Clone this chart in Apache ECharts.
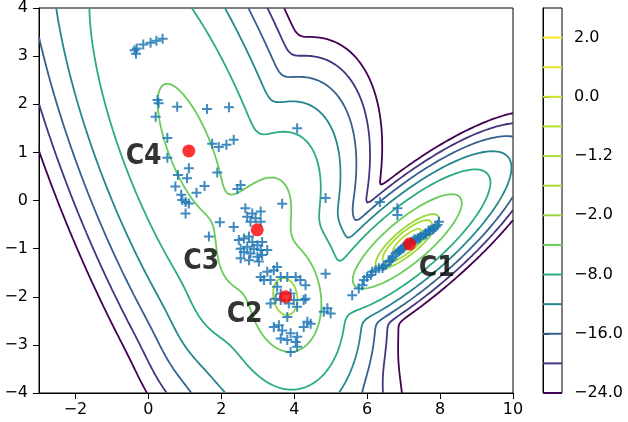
<!DOCTYPE html>
<html><head><meta charset="utf-8">
<script src="https://cdn.jsdelivr.net/npm/echarts@6/dist/echarts.min.js"></script>
<style>html,body{margin:0;padding:0;background:#fff}#c{width:628px;height:422px}</style>
</head><body><div id="c"></div>
<script>
// ---------- data ----------
const xTicks = [-2, 0, 2, 4, 6, 8, 10];
const yTicks = [-4, -3, -2, -1, 0, 1, 2, 3, 4];
const levels = [-24, -20, -16, -12, -8, -4, -2, -1.6, -1.2, -0.8, 0, 1, 2];
const cbarLabelIdx = [0, 2, 4, 6, 8, 10, 12];
const cbarLabels = ['−24.0', '−16.0', '−8.0', '−2.0', '−1.2', '0.0', '2.0'];

// mixture components: C1, C2, C3, C4
const compMeans   = [[7.1, -0.85], [3.76, -2.0], [2.985, -0.61], [1.15, 1.05]];
const compSigmas  = [[0.7, 0.2], [0.55, 0.45], [0.684, 0.42], [1.6, 0.58]];
const compAngles  = [31, -70, 55, -61];
const compWeights = [0.33, 0.27, 0.16, 0.17];

const centroids = [[7.165, -0.905], [3.76, -2.0], [2.985, -0.61], [1.108, 1.03]];
const centroidNames = ['C1', 'C2', 'C3', 'C4'];
const labelPos = [[7.91, -1.41], [2.64, -2.38], [1.45, -1.27], [-0.13, 0.91]];

const ptsTop = [[-0.38,3.12],[-0.34,3.05],[-0.32,3.16],[-0.14,3.24],[0.06,3.28],[0.22,3.32],[0.39,3.36]];
const ptsC4 = [[0.25,2.09],[0.28,2.02],[0.2,1.74],[0.79,1.95],[1.61,1.9],[2.21,1.94],[0.52,1.3],[0.52,0.89],
  [1.75,1.18],[1.93,1.11],[2.14,1.16],[2.34,1.26],[1.11,0.67],[1.06,0.46],[0.81,0.53],[1.89,0.58],[0.74,0.29],
  [0.9,0.12],[0.93,0.01],[1.32,0.16],[1.54,0.3],[2.53,0.32],[2.44,0.24],[1.02,-0.27],[1.02,-0.03],[1.11,-0.06],
  [4.08,1.5],[1.96,-0.45],[2.34,-0.55],[3.67,-0.07],[4.86,0.05]];
const ptsC3 = [[1.66,-0.75],[2.66,-0.16],[2.85,-0.27],[3.08,-0.23],[2.71,-0.34],[2.94,-0.37],[2.8,-0.44],[3.08,-0.44],
  [2.48,-0.82],[2.62,-0.79],[2.76,-0.75],[2.85,-0.86],[2.99,-0.93],[3.12,-0.86],[2.53,-1.0],[2.71,-0.96],[2.89,-1.0],
  [3.08,-1.03],[3.26,-1.03],[2.62,-1.07],[2.8,-1.1],[2.99,-1.17],[2.53,-1.2],[2.76,-1.24],[3.03,-1.27],[3.12,-1.13]];
const ptsC2 = [[3.08,-1.59],[3.26,-1.48],[3.44,-1.45],[3.53,-1.38],[3.17,-1.65],[3.35,-1.65],[3.63,-1.59],[3.81,-1.59],
  [4.04,-1.59],[4.17,-1.65],[4.31,-1.76],[3.53,-1.79],[3.63,-1.93],[3.49,-2.04],[3.9,-1.93],[3.99,-2.07],[4.31,-2.04],
  [3.35,-2.14],[3.63,-2.07],[3.85,-2.14],[4.08,-2.21],[3.81,-2.42],[3.44,-2.63],[3.58,-2.59],[3.67,-2.7],[3.9,-2.76],
  [4.08,-2.83],[3.81,-2.9],[4.04,-2.94],[4.26,-2.63],[4.36,-2.52],[4.45,-2.56],[4.81,-2.31],[5.0,-2.35],[4.91,-2.24],
  [3.9,-3.15],[4.08,-3.04],[3.63,-2.87],[4.26,-2.07],[4.86,-1.52]];
const ptsC1 = [[5.59,-1.97],[5.77,-1.83],[5.87,-1.76],[5.91,-1.65],[6.0,-1.59],[6.1,-1.55],[6.14,-1.48],[6.23,-1.45],
  [6.32,-1.41],[6.42,-1.4],[6.45,-1.36],[6.51,-1.34],[6.6,-1.27],[6.65,-1.24],[6.69,-1.2],[6.78,-1.1],[6.85,-1.07],
  [6.92,-1.03],[7.01,-0.96],[7.05,-0.93],[7.1,-0.89],[7.19,-0.86],[7.25,-0.84],[7.33,-0.82],[7.4,-0.78],[7.47,-0.75],
  [7.55,-0.72],[7.6,-0.68],[7.7,-0.64],[7.74,-0.61],[7.83,-0.58],[7.93,-0.51],[7.97,-0.44],[6.35,-0.03],[6.83,-0.16],[6.83,-0.3],
  [6.7,-1.16],[6.88,-1.05],[6.95,-1.0],[7.0,-0.99],[7.15,-0.92],[7.2,-0.88],[7.3,-0.8],[7.38,-0.8],[7.45,-0.77],
  [7.62,-0.7],[7.68,-0.63],[7.8,-0.6],[7.88,-0.55]];
const allPts = ptsTop.concat(ptsC4, ptsC3, ptsC2, ptsC1);

// ---------- helpers ----------
const VIR = ['#440154','#482878','#3e4989','#31688e','#26828e','#1f9e89','#35b779','#6ece58','#b5de2b','#fde725'];
function viridis(t){
  t = Math.max(0, Math.min(1, t)) * (VIR.length - 1);
  const i = Math.min(VIR.length - 2, Math.floor(t)), f = t - i;
  const a = VIR[i], b = VIR[i+1];
  const c = k => Math.round(parseInt(a.substr(k,2),16)*(1-f) + parseInt(b.substr(k,2),16)*f);
  return 'rgb(' + c(1) + ',' + c(3) + ',' + c(5) + ')';
}
const lvMin = levels[0], lvMax = levels[levels.length-1];
const levelColor = levels.map(l => viridis((l - lvMin) / (lvMax - lvMin)));

const comps = compMeans.map((m, k) => {
  const a = compAngles[k] * Math.PI / 180;
  const [sa, sb] = compSigmas[k];
  return {mx: m[0], my: m[1], c: Math.cos(a), s: Math.sin(a), sa, sb,
          lc: Math.log(compWeights[k]) - Math.log(2 * Math.PI * sa * sb)};
});
function logDens(x, y){
  const t = []; let m = -Infinity;
  for (const p of comps){
    const dx = x - p.mx, dy = y - p.my;
    const u = (dx * p.c + dy * p.s) / p.sa, v = (-dx * p.s + dy * p.c) / p.sb;
    const val = p.lc - 0.5 * (u*u + v*v);
    t.push(val); if (val > m) m = val;
  }
  let s = 0; for (const v of t) s += Math.exp(v - m);
  return m + Math.log(s);
}
const X0 = -3, X1 = 10, Y0 = -4, Y1 = 4, STEP = 0.025;
const nx = Math.round((X1 - X0) / STEP) + 1, ny = Math.round((Y1 - Y0) / STEP) + 1;
const xs = [], ys = [];
for (let i = 0; i < nx; i++) xs.push(X0 + i * STEP);
for (let j = 0; j < ny; j++) ys.push(Y0 + j * STEP);
const Z = new Float64Array(nx * ny);
for (let j = 0; j < ny; j++) for (let i = 0; i < nx; i++) Z[j*nx+i] = logDens(xs[i], ys[j]);

function contour(L){
  const NH = nx * ny;
  const H = (i,j) => j*nx + i, V = (i,j) => NH + j*nx + i;
  const sa = [], sb = [];
  const add = (p,q) => { sa.push(p); sb.push(q); };
  for (let j = 0; j < ny-1; j++) for (let i = 0; i < nx-1; i++){
    const a = Z[j*nx+i], b = Z[j*nx+i+1], c = Z[(j+1)*nx+i+1], d = Z[(j+1)*nx+i];
    const idx = (a>L?1:0)|(b>L?2:0)|(c>L?4:0)|(d>L?8:0);
    if (idx === 0 || idx === 15) continue;
    const B = H(i,j), R = V(i+1,j), T = H(i,j+1), Lf = V(i,j);
    const ctr = (a+b+c+d)/4 > L;
    switch(idx){
      case 1: case 14: add(Lf,B); break;
      case 2: case 13: add(B,R); break;
      case 3: case 12: add(Lf,R); break;
      case 4: case 11: add(R,T); break;
      case 6: case 9: add(B,T); break;
      case 7: case 8: add(Lf,T); break;
      case 5: if (ctr){ add(B,R); add(T,Lf); } else { add(Lf,B); add(R,T); } break;
      case 10: if (ctr){ add(Lf,B); add(R,T); } else { add(B,R); add(T,Lf); } break;
    }
  }
  const pt = e => {
    if (e < NH){ const j = Math.floor(e/nx), i = e % nx; const za = Z[j*nx+i], zb = Z[j*nx+i+1];
      const t = (L-za)/(zb-za); return [xs[i] + t*STEP, ys[j]]; }
    e -= NH; const j = Math.floor(e/nx), i = e % nx; const za = Z[j*nx+i], zb = Z[(j+1)*nx+i];
    const t = (L-za)/(zb-za); return [xs[i], ys[j] + t*STEP];
  };
  const adj = new Map();
  for (let s = 0; s < sa.length; s++){
    for (const e of [sa[s], sb[s]]){ if (!adj.has(e)) adj.set(e, []); adj.get(e).push(s); }
  }
  const used = new Uint8Array(sa.length);
  const lines = [];
  const walk = (start, chain) => {
    let cur = start;
    while (true){
      const lst = adj.get(cur); let nxt = -1;
      for (const s of lst) if (!used[s]){ nxt = s; break; }
      if (nxt < 0) break;
      used[nxt] = 1;
      cur = sa[nxt] === cur ? sb[nxt] : sa[nxt];
      chain.push(cur);
    }
  };
  for (let s = 0; s < sa.length; s++){
    if (used[s]) continue; used[s] = 1;
    const fwd = [sa[s], sb[s]];
    walk(sb[s], fwd);
    const back = [];
    if (fwd[fwd.length-1] !== fwd[0]) walk(sa[s], back);
    lines.push(back.reverse().concat(fwd).map(pt));
  }
  return lines;
}

const series = [];
levels.forEach((L, k) => {
  for (const line of contour(L)){
    if (line.length < 2) continue;
    series.push({type:'line', xAxisIndex:0, yAxisIndex:0, data: line, showSymbol:false, symbol:'none',
      lineStyle:{color: levelColor[k], width: 1.8}, silent:true, animation:false, z:2, clip:true});
  }
});
levels.forEach((L, k) => {
  series.push({type:'line', xAxisIndex:1, yAxisIndex:1, data:[[0,k],[1,k]], showSymbol:false, symbol:'none',
    lineStyle:{color: levelColor[k], width: 2}, silent:true, animation:false, z:2});
});
const plusPath = 'path://M3.6,0H5.4V3.6H9V5.4H5.4V9H3.6V5.4H0V3.6H3.6Z';
series.push({type:'scatter', xAxisIndex:0, yAxisIndex:0, data: allPts,
  symbol: plusPath, symbolSize: 10, itemStyle:{color:'#1f77b4', opacity:0.85}, silent:true, animation:false, z:3});
series.push({type:'scatter', xAxisIndex:0, yAxisIndex:0, data: centroids, symbol:'circle', symbolSize:13,
  itemStyle:{color:'#ff0000'}, silent:true, animation:false, z:4});
series.push({type:'scatter', xAxisIndex:0, yAxisIndex:0,
  data: labelPos.map((p, i) => ({value: p, name: centroidNames[i]})), symbolSize: 1,
  itemStyle:{color:'rgba(0,0,0,0)'},
  label:{show:true, position:'inside', formatter: p => p.name, color:'#000', fontSize: 28, fontWeight:'bold',
    fontFamily: "'Liberation Sans Narrow','DejaVu Sans Condensed','Noto Sans CJK SC',sans-serif"},
  silent:true, animation:false, z:5});

const minus = v => (v < 0 ? '\u2212' : '') + Math.abs(v);
const tickFont = {fontFamily:'DejaVu Sans', fontSize:16, color:'#000'};
const chart = echarts.init(document.getElementById('c'), null, {renderer:'canvas'});
chart.setOption({
  animation:false,
  backgroundColor:'#fff',
  grid:[
    {left:39, top:8, width:474, height:385, show:true, borderColor:'#000', borderWidth:1, containLabel:false},
    {left:543, top:8, width:19, height:385, show:true, borderColor:'#000', borderWidth:1, containLabel:false}
  ],
  xAxis:[
    {type:'value', gridIndex:0, min:X0, max:X1, splitLine:{show:false},
     axisLine:{show:true, onZero:false, lineStyle:{color:'#000', width:1}},
     axisTick:{show:true, length:6, lineStyle:{color:'#000'}, customValues:xTicks},
     axisLabel:{show:true, margin:9, customValues:xTicks, formatter:minus, ...tickFont}},
    {type:'value', gridIndex:1, min:0, max:1, show:false}
  ],
  yAxis:[
    {type:'value', gridIndex:0, min:Y0, max:Y1, interval:1, splitLine:{show:false},
     axisLine:{show:true, onZero:false, lineStyle:{color:'#000', width:1}},
     axisTick:{show:true, length:6, lineStyle:{color:'#000'}, customValues:yTicks},
     axisLabel:{show:true, margin:11, customValues:yTicks, formatter:minus, ...tickFont}},
    {type:'value', gridIndex:1, min:0, max:13, position:'right', splitLine:{show:false},
     axisLine:{show:true, lineStyle:{color:'#000', width:1}},
     axisTick:{show:true, length:6, lineStyle:{color:'#000'}, customValues:cbarLabelIdx},
     axisLabel:{show:true, margin:12, customValues:cbarLabelIdx,
       formatter: v => cbarLabels[cbarLabelIdx.indexOf(Math.round(v))] || '', ...tickFont}}
  ],
  series: series
});
</script></body></html>
